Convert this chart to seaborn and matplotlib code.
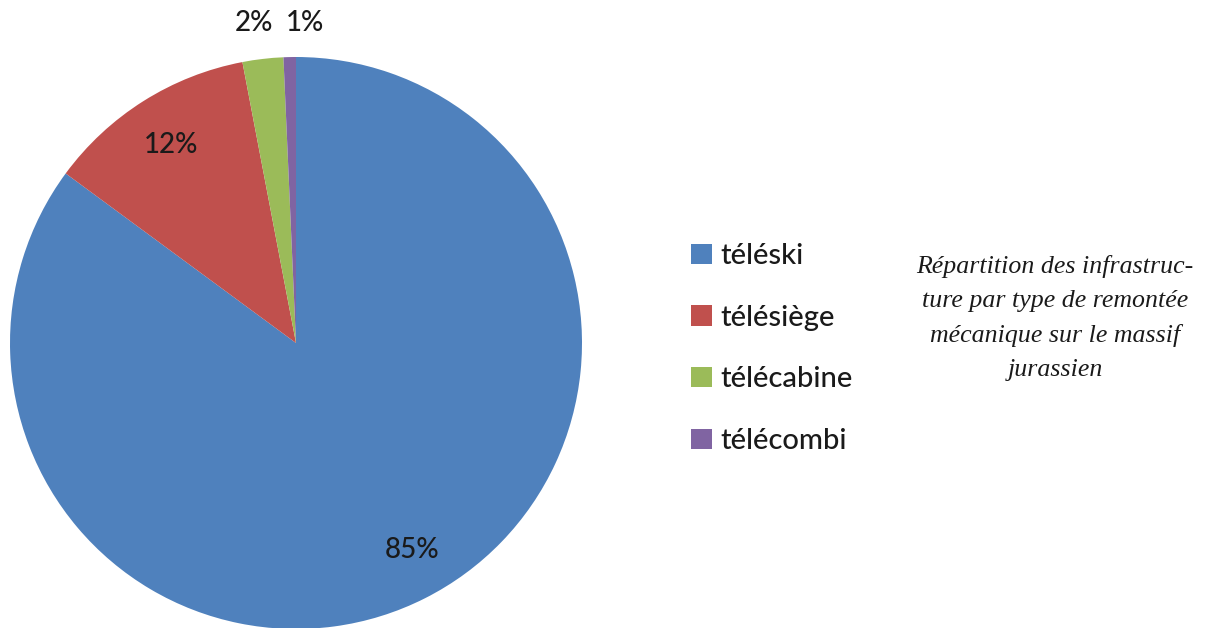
import numpy as np
import matplotlib
matplotlib.use("Agg")
import matplotlib.pyplot as plt
import seaborn as sns

# data
types = ["téléski", "télésiège", "télécabine", "télécombi"]
shares = [85.1, 11.9, 2.3, 0.7]
pct_labels = ["85%", "12%", "2%", "1%"]
colors = ["#4F81BD", "#C0504D", "#9BBB59", "#8064A2"]
caption = "Répartition des infrastruc-\nture par type de remontée\nmécanique sur le massif\njurassien"

sns.set_theme(style="white")
plt.rcParams["font.family"] = ["Lato", "DejaVu Sans"]

W, H = 1213, 628
fig = plt.figure(figsize=(W / 100, H / 100), dpi=100)
cx, cy, r = 296, 343, 286
ax = fig.add_axes([(cx - r) / W, (H - cy - r) / H, 2 * r / W, 2 * r / H])

wedges, _ = ax.pie(shares, colors=colors, startangle=90, counterclock=False,
                   radius=1, wedgeprops=dict(linewidth=0))
ax.set_xlim(-1, 1)
ax.set_ylim(-1, 1)
ax.axis("off")

# label placement (Excel "best fit" style)
dist = [0.83, 0.82, 1.13, 1.12]
shift = [2.5, 0.0, 0.8, -2.9]
for w, lab, d, s in zip(wedges, pct_labels, dist, shift):
    ang = np.deg2rad((w.theta1 + w.theta2) / 2 + s)
    ax.text(d * np.cos(ang), d * np.sin(ang), lab, ha="center", va="center",
            fontsize=20, fontweight="medium", color="#1a1a1a", clip_on=False)

leg = fig.legend(wedges, types, loc="upper left", bbox_to_anchor=(665 / W, 1 - 217 / H),
                 frameon=False, prop=dict(size=21, weight="medium"),
                 handlelength=0.7, handleheight=0.7,
                 handletextpad=0.3, labelspacing=1.22)
for t in leg.get_texts():
    t.set_color("#1a1a1a")

fig.text(1055 / W, 1 - 318 / H, caption, ha="center", va="center",
         fontsize=18.6, fontstyle="italic", family="Liberation Serif",
         linespacing=1.7, color="#1a1a1a")

fig.savefig("out.png", dpi=100)
